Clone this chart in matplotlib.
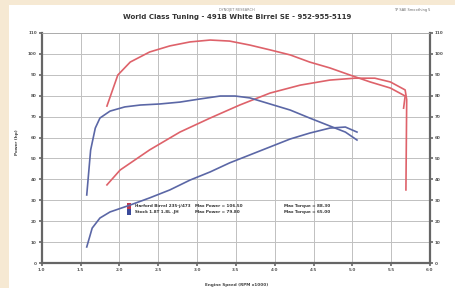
import numpy as np
import matplotlib
matplotlib.use("Agg")
from matplotlib import pyplot as plt
from matplotlib.patches import Rectangle

# engine speed (RPM x1000) and power/torque
red_hp_rpm = [1.84, 1.98, 2.14, 2.39, 2.65, 2.91, 3.17, 3.42, 3.68, 3.94, 4.20, 4.45, 4.71, 4.97, 5.23, 5.49, 5.68, 5.66]
red_hp = [75.0, 89.8, 96.0, 100.8, 103.7, 105.6, 106.5, 106.0, 104.1, 101.8, 99.4, 96.0, 93.2, 89.8, 86.5, 83.6, 79.8, 74.0]

red_tq_rpm = [1.84, 2.01, 2.39, 2.78, 3.17, 3.55, 3.94, 4.33, 4.71, 5.03, 5.29, 5.49, 5.68, 5.70, 5.69]
red_tq = [37.4, 44.5, 54.1, 62.6, 69.3, 75.5, 81.2, 85.0, 87.4, 88.3, 88.3, 86.5, 82.7, 78.0, 35.0]

blue_hp_rpm = [1.58, 1.63, 1.69, 1.75, 1.88, 2.07, 2.27, 2.52, 2.78, 3.04, 3.30, 3.49, 3.68, 3.94, 4.20, 4.45, 4.71, 4.91, 5.06]
blue_hp = [32.6, 54.0, 64.5, 69.3, 72.6, 74.6, 75.5, 76.0, 76.9, 78.4, 79.8, 79.8, 78.9, 76.0, 73.1, 69.3, 65.5, 62.6, 58.8]

blue_tq_rpm = [1.58, 1.65, 1.75, 1.88, 2.14, 2.39, 2.65, 2.91, 3.17, 3.42, 3.68, 3.94, 4.20, 4.45, 4.71, 4.91, 5.06]
blue_tq = [7.8, 16.8, 21.6, 24.5, 27.8, 31.2, 35.0, 39.7, 43.6, 47.9, 51.7, 55.5, 59.3, 62.1, 64.5, 65.0, 62.6]

x_ticks = [1.0, 1.5, 2.0, 2.5, 3.0, 3.5, 4.0, 4.5, 5.0, 5.5, 6.0]
y_ticks = [0, 10, 20, 30, 40, 50, 60, 70, 80, 90, 100, 110]

red_name = "Harford Birrel 235-j/473"
blue_name = "Stock 1.8T 1.8L .JH"

red_col = "#de626a"
blue_col = "#5b67a6"

fig = plt.figure(figsize=(4.56, 2.88), dpi=100)
fig.patch.set_facecolor("#f6e9d3")
fig.patches.append(Rectangle((9 / 456, 0), 1, 1 - 5 / 288, transform=fig.transFigure,
                             facecolor="white", edgecolor="none", zorder=-10))

ax = fig.add_axes([41.7 / 456, 1 - 263.3 / 288, (430 - 41.7) / 456, (263.3 - 32.7) / 288])
ax.set_facecolor("white")

ax.plot(red_hp_rpm, red_hp, color=red_col, lw=1.2)
ax.plot(red_tq_rpm, red_tq, color=red_col, lw=1.2)
ax.plot(blue_hp_rpm, blue_hp, color=blue_col, lw=1.2)
ax.plot(blue_tq_rpm, blue_tq, color=blue_col, lw=1.2)

ax.set_xlim(1.0, 6.0)
ax.set_ylim(0, 110)
ax.set_xticks(x_ticks)
ax.set_yticks(y_ticks)
ax.set_xticklabels([f"{v:.1f}" for v in x_ticks], fontsize=3, color="#555555", fontweight="bold")
ax.set_yticklabels([str(v) for v in y_ticks], fontsize=3, color="#555555", fontweight="bold")
ax.tick_params(length=2.5, width=1.2, color="#666666", pad=1)
ax.grid(True, color="#c0c0c0", lw=0.7)
ax.set_axisbelow(True)

for s in ["left", "right", "bottom"]:
    ax.spines[s].set_color("#666666")
    ax.spines[s].set_linewidth(1.6)
ax.spines["top"].set_color("#aaaaaa")
ax.spines["top"].set_linewidth(0.6)

ax2 = ax.twinx()
ax2.set_ylim(0, 110)
ax2.set_yticks(y_ticks)
ax2.set_yticklabels([str(v) for v in y_ticks], fontsize=3, color="#555555", fontweight="bold")
ax2.tick_params(length=2.5, width=1.2, color="#666666", pad=1)
for s in ax2.spines.values():
    s.set_visible(False)

# legend block
lx = (127 - 41.7) / (430 - 41.7)
ax.add_patch(Rectangle((lx, 0.235), 0.011, 0.026, transform=ax.transAxes, facecolor="#c0364a", edgecolor="none"))
ax.add_patch(Rectangle((lx, 0.209), 0.011, 0.026, transform=ax.transAxes, facecolor="#3a4a9a", edgecolor="none"))
for yy, name, hp, tq in [(0.248, red_name, red_hp, red_tq), (0.222, blue_name, blue_hp, blue_tq)]:
    ax.text(lx + 0.02, yy, name, transform=ax.transAxes,
            fontsize=3, color="#333333", va="center", fontweight="bold")
    ax.text(0.395, yy, f"Max Power = {max(hp):.2f}", transform=ax.transAxes,
            fontsize=3, color="#333333", va="center", fontweight="bold")
    ax.text(0.625, yy, f"Max Torque = {max(tq):.2f}", transform=ax.transAxes,
            fontsize=3, color="#333333", va="center", fontweight="bold")

fig.text(237 / 456, 1 - 10 / 288, "DYNOJET RESEARCH", fontsize=2.5, color="#777777", ha="center", va="center")
fig.text(237 / 456, 1 - 17 / 288, "World Class Tuning - 491B White Birrel SE - 952-955-5119",
         fontsize=5, fontweight="bold", color="#333333", ha="center", va="center")
fig.text(430 / 456, 1 - 10 / 288, "TP SAE Smoothing 5", fontsize=2.5, color="#666666", ha="right", va="center")
fig.text(17 / 456, 1 - 142 / 288, "Power (hp)", fontsize=3, fontweight="bold", color="#444444",
         rotation=90, ha="center", va="center")
fig.text(237 / 456, 1 - 285 / 288, "Engine Speed (RPM x1000)", fontsize=3, fontweight="bold",
         color="#444444", ha="center", va="center")

plt.savefig("out.png", dpi=100, facecolor=fig.get_facecolor())
plt.close()
